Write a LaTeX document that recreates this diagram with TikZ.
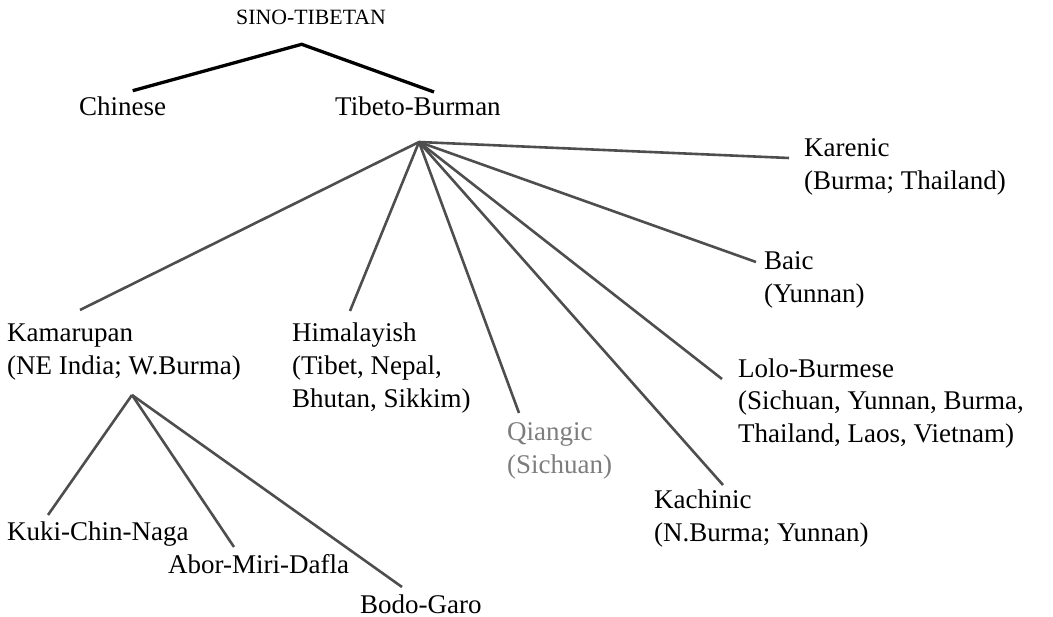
\documentclass[tikz,border=0pt]{standalone}
\usepackage{fontspec}
\setmainfont{Liberation Serif}
\definecolor{branch}{RGB}{78,78,78}
\definecolor{faded}{RGB}{125,125,125}
\begin{document}
\begin{tikzpicture}[x=1pt,y=-1pt,
  % multi-line labels sit on the baseline of their last line
  lbl/.style={anchor=base west, inner sep=0pt, align=left,
              font=\fontsize{27}{33}\selectfont},
  rootlbl/.style={anchor=base, inner sep=0pt,
                  font=\fontsize{21.8}{26}\selectfont},
  trunk/.style={draw=black, line width=3.3pt},
  twig/.style={draw=branch, line width=2.6pt}]
\useasboundingbox (0,0) rectangle (1053,617);

% family labels
\node[rootlbl] (st) at (311,25) {SINO-TIBETAN};
\node[lbl] (cn) at (79,116) {Chinese};
\node[lbl] (tb) at (335,116) {Tibeto-Burman};

\node[lbl] (kr) at (804,190) {Karenic\\(Burma; Thailand)};
\node[lbl] (ba) at (764,303) {Baic\\(Yunnan)};
\node[lbl] (km) at (7,375) {Kamarupan\\(NE India; W.Burma)};
\node[lbl] (hm) at (292,408) {Himalayish\\(Tibet, Nepal,\\Bhutan, Sikkim)};
\node[lbl, text=faded] (qi) at (507,474) {Qiangic\\(Sichuan)};
\node[lbl] (lb) at (738,443) {Lolo-Burmese\\(Sichuan, Yunnan, Burma,\\Thailand, Laos, Vietnam)};
\node[lbl] (kc) at (654,542) {Kachinic\\(N.Burma; Yunnan)};

\node[lbl] (kk) at (7,540) {Kuki-Chin-Naga};
\node[lbl] (ab) at (168,573) {Abor-Miri-Dafla};
\node[lbl] (bg) at (360,613) {Bodo-Garo};

% branching points and line ends
\coordinate (st-fork) at (301.7,44.3);
\coordinate (cn-top) at (132.7,90.7);
\coordinate (tb-top) at (434,92);
\coordinate (tb-fork) at (419,142);
\coordinate (kr-end) at (789,158);
\coordinate (ba-end) at (756,262);
\coordinate (km-end) at (80,310);
\coordinate (hm-end) at (350,311);
\coordinate (qi-end) at (519,413);
\coordinate (lb-end) at (722,379);
\coordinate (kc-end) at (723,485);
\coordinate (km-fork) at (132,395);
\coordinate (kk-end) at (48,515);
\coordinate (ab-end) at (234,547);
\coordinate (bg-end) at (402,587);

% top split
\draw[trunk] (cn-top) -- (st-fork) -- (tb-top);

% Tibeto-Burman fan
\foreach \e in {kr-end,ba-end,km-end,hm-end,qi-end,lb-end,kc-end}
  \draw[twig] (tb-fork) -- (\e);

% Kamarupan fan
\foreach \e in {kk-end,ab-end,bg-end}
  \draw[twig] (km-fork) -- (\e);
\end{tikzpicture}
\end{document}
